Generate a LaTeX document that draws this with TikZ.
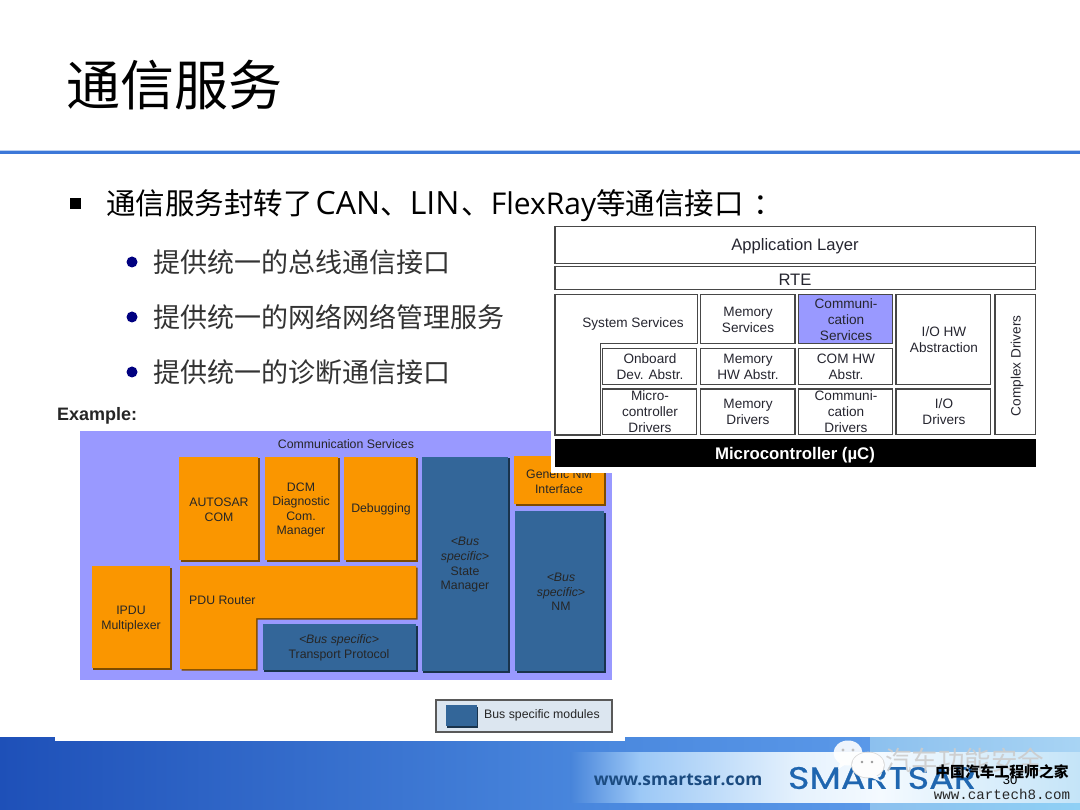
\documentclass[tikz,border=0pt]{standalone}
\usepackage{fontspec}
\setmainfont{Liberation Sans}
\newfontfamily\cjk{Noto Sans CJK SC}
\newfontfamily\lmono{Liberation Mono}
\newfontfamily\osans{Open Sans}
\newfontfamily\popp[FakeBold=0.6]{Poppins}
\usetikzlibrary{shadows}
\definecolor{lav}{HTML}{9999FF}
\definecolor{org}{HTML}{FA9600}
\definecolor{busb}{HTML}{336699}
\definecolor{ink}{HTML}{262630}
\definecolor{navy}{HTML}{000080}
\definecolor{fA}{HTML}{1E50B8}
\definecolor{fB}{HTML}{4A88DE}
\definecolor{fB2}{HTML}{4784DA}
\definecolor{fC}{HTML}{5A98E8}
\definecolor{fD}{HTML}{8CC0EE}
\definecolor{fE}{HTML}{A8D4F4}
\definecolor{fE2}{HTML}{8FD0F5}
\definecolor{fF}{HTML}{9CC8F6}
\definecolor{fG}{HTML}{E6F2FD}
\definecolor{fH}{HTML}{F4FAFF}
\definecolor{fI}{HTML}{C4E4F8}
\definecolor{legbg}{HTML}{DCE6F0}
\definecolor{urlc}{HTML}{1B4B80}
\definecolor{logoc}{HTML}{1F66B0}
\definecolor{hdr}{HTML}{3C78D8}
\newcommand{\fs}[1]{\fontsize{#1}{1.18\dimexpr #1pt\relax}\selectfont}
\newcommand{\bx}[6]{\node[#1,minimum width={(#5-#3)*1pt},minimum height={(#6-#4)*1pt}] (#2) at ({(#3+#5)/2},{(#4+#6)/2}) {};}
\tikzset{
  boxbase/.style={rectangle,inner sep=0pt,outer sep=0pt},
  layer/.style={boxbase,draw=black!72,line width=1.1pt,fill=white},
  layerhi/.style={layer,fill=lav},
  orgbox/.style={boxbase,fill=org,general shadow={shadow xshift=1.5pt,shadow yshift=-1.5pt,fill=black!50!org}},
  blubox/.style={boxbase,fill=busb,general shadow={shadow xshift=1.5pt,shadow yshift=-1.5pt,fill=black!50!busb}},
  lblA/.style={font=\fs{13.6},text=ink,align=center,inner sep=0pt,yshift=-0.8pt},
  lblB/.style={font=\fs{12.3},text=black!85,align=center,inner sep=0pt,yshift=-0.8pt},
  bul/.style={circle,inner sep=0pt,minimum size=11pt,fill=navy},
  bultxt/.style={font=\cjk\fs{27},anchor=west,inner sep=0pt,text=black!80},
}
\begin{document}
\begin{tikzpicture}[x=1pt,y=-1pt]
\useasboundingbox (0,0) rectangle (1080,810);
\fill[white] (0,0) rectangle (1080,810);
% header
\fill[hdr!35!white] (0,150) rectangle (1080,154.5);
\fill[hdr] (0,151) rectangle (1080,153.7);
\node[font=\cjk\fs{54},anchor=west,inner sep=0pt,text=black] (title) at (66,85.5) {通信服务};
% footer
\shade[left color=fA,right color=fB] (0,737) rectangle (600.2,810);
\shade[left color=fB,right color=fC] (600,737) rectangle (870.2,752);
\shade[left color=fD,right color=fE] (870,737) rectangle (1080,752);
\shade[left color=fB,right color=fC] (600,802) rectangle (870.2,810);
\shade[left color=fD,right color=fE2] (870,802) rectangle (1080,810);
\shade[left color=fB2,right color=fF] (570,752) rectangle (640.2,802);
\shade[left color=fF,right color=fG] (640,752) rectangle (800.2,802);
\shade[left color=fG,right color=fH] (800,752) rectangle (880.2,802);
\shade[left color=fH,right color=fI] (880,752) rectangle (1080,802);
\node[font=\osans\bfseries\fs{17.3},text=urlc,inner sep=0pt] (url) at (678,780) {www.smartsar.com};
\node[font=\popp\fs{31},text=logoc,inner sep=0pt,xscale=1.18] (logo) at (882,778) {SMARTSAR};
\node[font=\fs{13},text=black,inner sep=0pt] (page) at (1010,780) {30};
% bullets
\fill[black] (70,198) rectangle (81,209);
\node[font=\cjk\fs{29.5},anchor=west,inner sep=0pt,text=black] (b0) at (106,206) {通信服务封转了\kern3pt{\osans\fs{32}CAN}、{\osans\fs{32}LIN}\kern2pt、{\osans\fs{30}FlexRay}等通信接口\kern10pt：};
\node[bul] (d1) at (132,262) {};
\node[bultxt] (b1) at (153,262) {提供统一的总线通信接口};
\node[bul] (d2) at (132,317) {};
\node[bultxt] (b2) at (153,317) {提供统一的网络网络管理服务};
\node[bul] (d3) at (132,372) {};
\node[bultxt] (b3) at (153,372) {提供统一的诊断通信接口};
% example image
\fill[white] (55,405) rectangle (625,741);
\node[font=\bfseries\fs{18},anchor=west,inner sep=0pt,text=black!85] (ex) at (57,416) {Example:};
\fill[lav] (80,431) rectangle (612,680);
\node[lblB] (cs) at (346,443) {Communication Services};
\bx{orgbox}{autosar}{179}{457}{258}{560}
\node[lblB] at (219,509) {AUTOSAR\\COM};
\bx{orgbox}{dcm}{265}{457}{338}{560}
\node[lblB] at (301,509) {DCM\\Diagnostic\\Com.\\Manager};
\bx{orgbox}{debug}{344}{457}{416}{560}
\node[lblB] at (381,509) {Debugging};
\bx{blubox}{state}{421.5}{457}{508}{671}
\node[lblB] at (465,564) {\textit{<Bus}\\\textit{specific>}\\State\\Manager};
\bx{orgbox}{gennm}{514}{456}{604}{504}
\node[lblB] at (559,481) {Generic NM\\Interface};
\bx{blubox}{nm}{515}{511}{604}{671}
\node[lblB] at (561,591) {\textit{<Bus}\\\textit{specific>}\\NM};
\bx{orgbox}{ipdu}{91.5}{566}{170}{668}
\node[lblB] at (131,618) {IPDU\\Multiplexer};
\fill[black!50!org,xshift=1.5pt,yshift=-1.5pt] (180,566) -- (416,566) -- (416,618) -- (256,618) -- (256,669) -- (180,669) -- cycle;
\fill[org] (180,566) -- (416,566) -- (416,618) -- (256,618) -- (256,669) -- (180,669) -- cycle;
\node[lblB,anchor=west] (pdu) at (189,600) {PDU Router};
\bx{blubox}{tp}{262.5}{624}{416}{670}
\node[lblB] at (339,647) {\textit{<Bus specific>}\\Transport Protocol};
\bx{boxbase,draw=black!65,line width=1.1pt,fill=legbg}{legend}{436}{700}{612}{732}
\bx{blubox}{swatch}{445.5}{705}{476.5}{726}
\node[lblB,anchor=west] (legt) at (484,715) {Bus specific modules};
% architecture image
\fill[white] (551,224) rectangle (1039,473);
\bx{layer}{app}{555}{226.5}{1035.5}{263.5}
\node[lblA,font=\fs{16.6}] at (795,245) {Application Layer};
\bx{layer}{rte}{555}{266.5}{1035.5}{289.5}
\node[lblA,font=\fs{16.6}] at (795,279) {RTE};
\draw[draw=black!72,line width=1.1pt,fill=white] (555,294.5) -- (697.5,294.5) -- (697.5,343.5) -- (600.5,343.5) -- (600.5,435) -- (555,435) -- cycle;
\node[lblA] (sys) at (633,323) {System Services};
\bx{layer}{memsrv}{700.5}{294.5}{795}{343.5}
\node[lblA] at (748,319) {Memory\\Services};
\bx{layerhi}{comsrv}{798.5}{294.5}{892.5}{343.5}
\node[lblA] at (846,319) {Communi-\\cation\\Services};
\bx{layer}{iohw}{896}{294.5}{990.5}{384.5}
\node[lblA] at (944,339) {I/O HW\\Abstraction};
\bx{layer}{cdrv}{995}{294.5}{1035.5}{434.5}
\node[lblA,rotate=90] at (1017,365) {Complex Drivers};
\bx{layer}{onb}{602.5}{348.5}{696.5}{384.5}
\node[lblA] at (650,366) {Onboard\\Dev. Abstr.};
\bx{layer}{memhw}{700.5}{348.5}{795}{384.5}
\node[lblA] at (748,366) {Memory\\HW Abstr.};
\bx{layer}{comhw}{798.5}{348.5}{892.5}{384.5}
\node[lblA] at (846,366) {COM HW\\Abstr.};
\bx{layer}{mcu}{602.5}{389}{696.5}{434.5}
\node[lblA] at (650,411) {Micro-\\controller\\Drivers};
\bx{layer}{memdrv}{700.5}{389}{795}{434.5}
\node[lblA] at (748,411) {Memory\\Drivers};
\bx{layer}{comdrv}{798.5}{389}{892.5}{434.5}
\node[lblA] at (846,411) {Communi-\\cation\\Drivers};
\bx{layer}{iodrv}{896}{389}{990.5}{434.5}
\node[lblA] at (944,411) {I/O\\Drivers};
\bx{boxbase,fill=black}{uc}{555}{439}{1035.5}{467.5}
\node[font=\bfseries\fs{16.8},text=white,inner sep=0pt,yshift=-1.2pt] at (795,454) {Microcontroller (µC)};
% watermarks
\fill[white,opacity=.9] (848,753) ellipse (14.5 and 12.5);
\fill[white,opacity=.9] (838,769) -- (841,760) -- (848,763) -- cycle;
\fill[black!25] (843,750) circle (1.6) (853,750) circle (1.6);
\fill[black!15] (868,765) ellipse (16.8 and 13.3);
\fill[white,opacity=.95] (868,765) ellipse (16 and 12.5);
\fill[white,opacity=.95] (876,775) -- (881,782) -- (870,777) -- cycle;
\fill[black!40] (862,762) circle (1.3) (872,762) circle (1.3);
\node[font=\cjk\fs{26.5},text=black!20,opacity=.9,anchor=west,inner sep=0pt] (wm) at (885,760) {汽车功能安全};
\node[font=\cjk\bfseries\fs{14.8},text=black,inner sep=0pt] (wm2) at (1002,772) {中国汽车工程师之家};
\node[font=\lmono\fs{14.2},text=black!85,inner sep=0pt] (wm3) at (1002,794) {www.cartech8.com};
\end{tikzpicture}
\end{document}
